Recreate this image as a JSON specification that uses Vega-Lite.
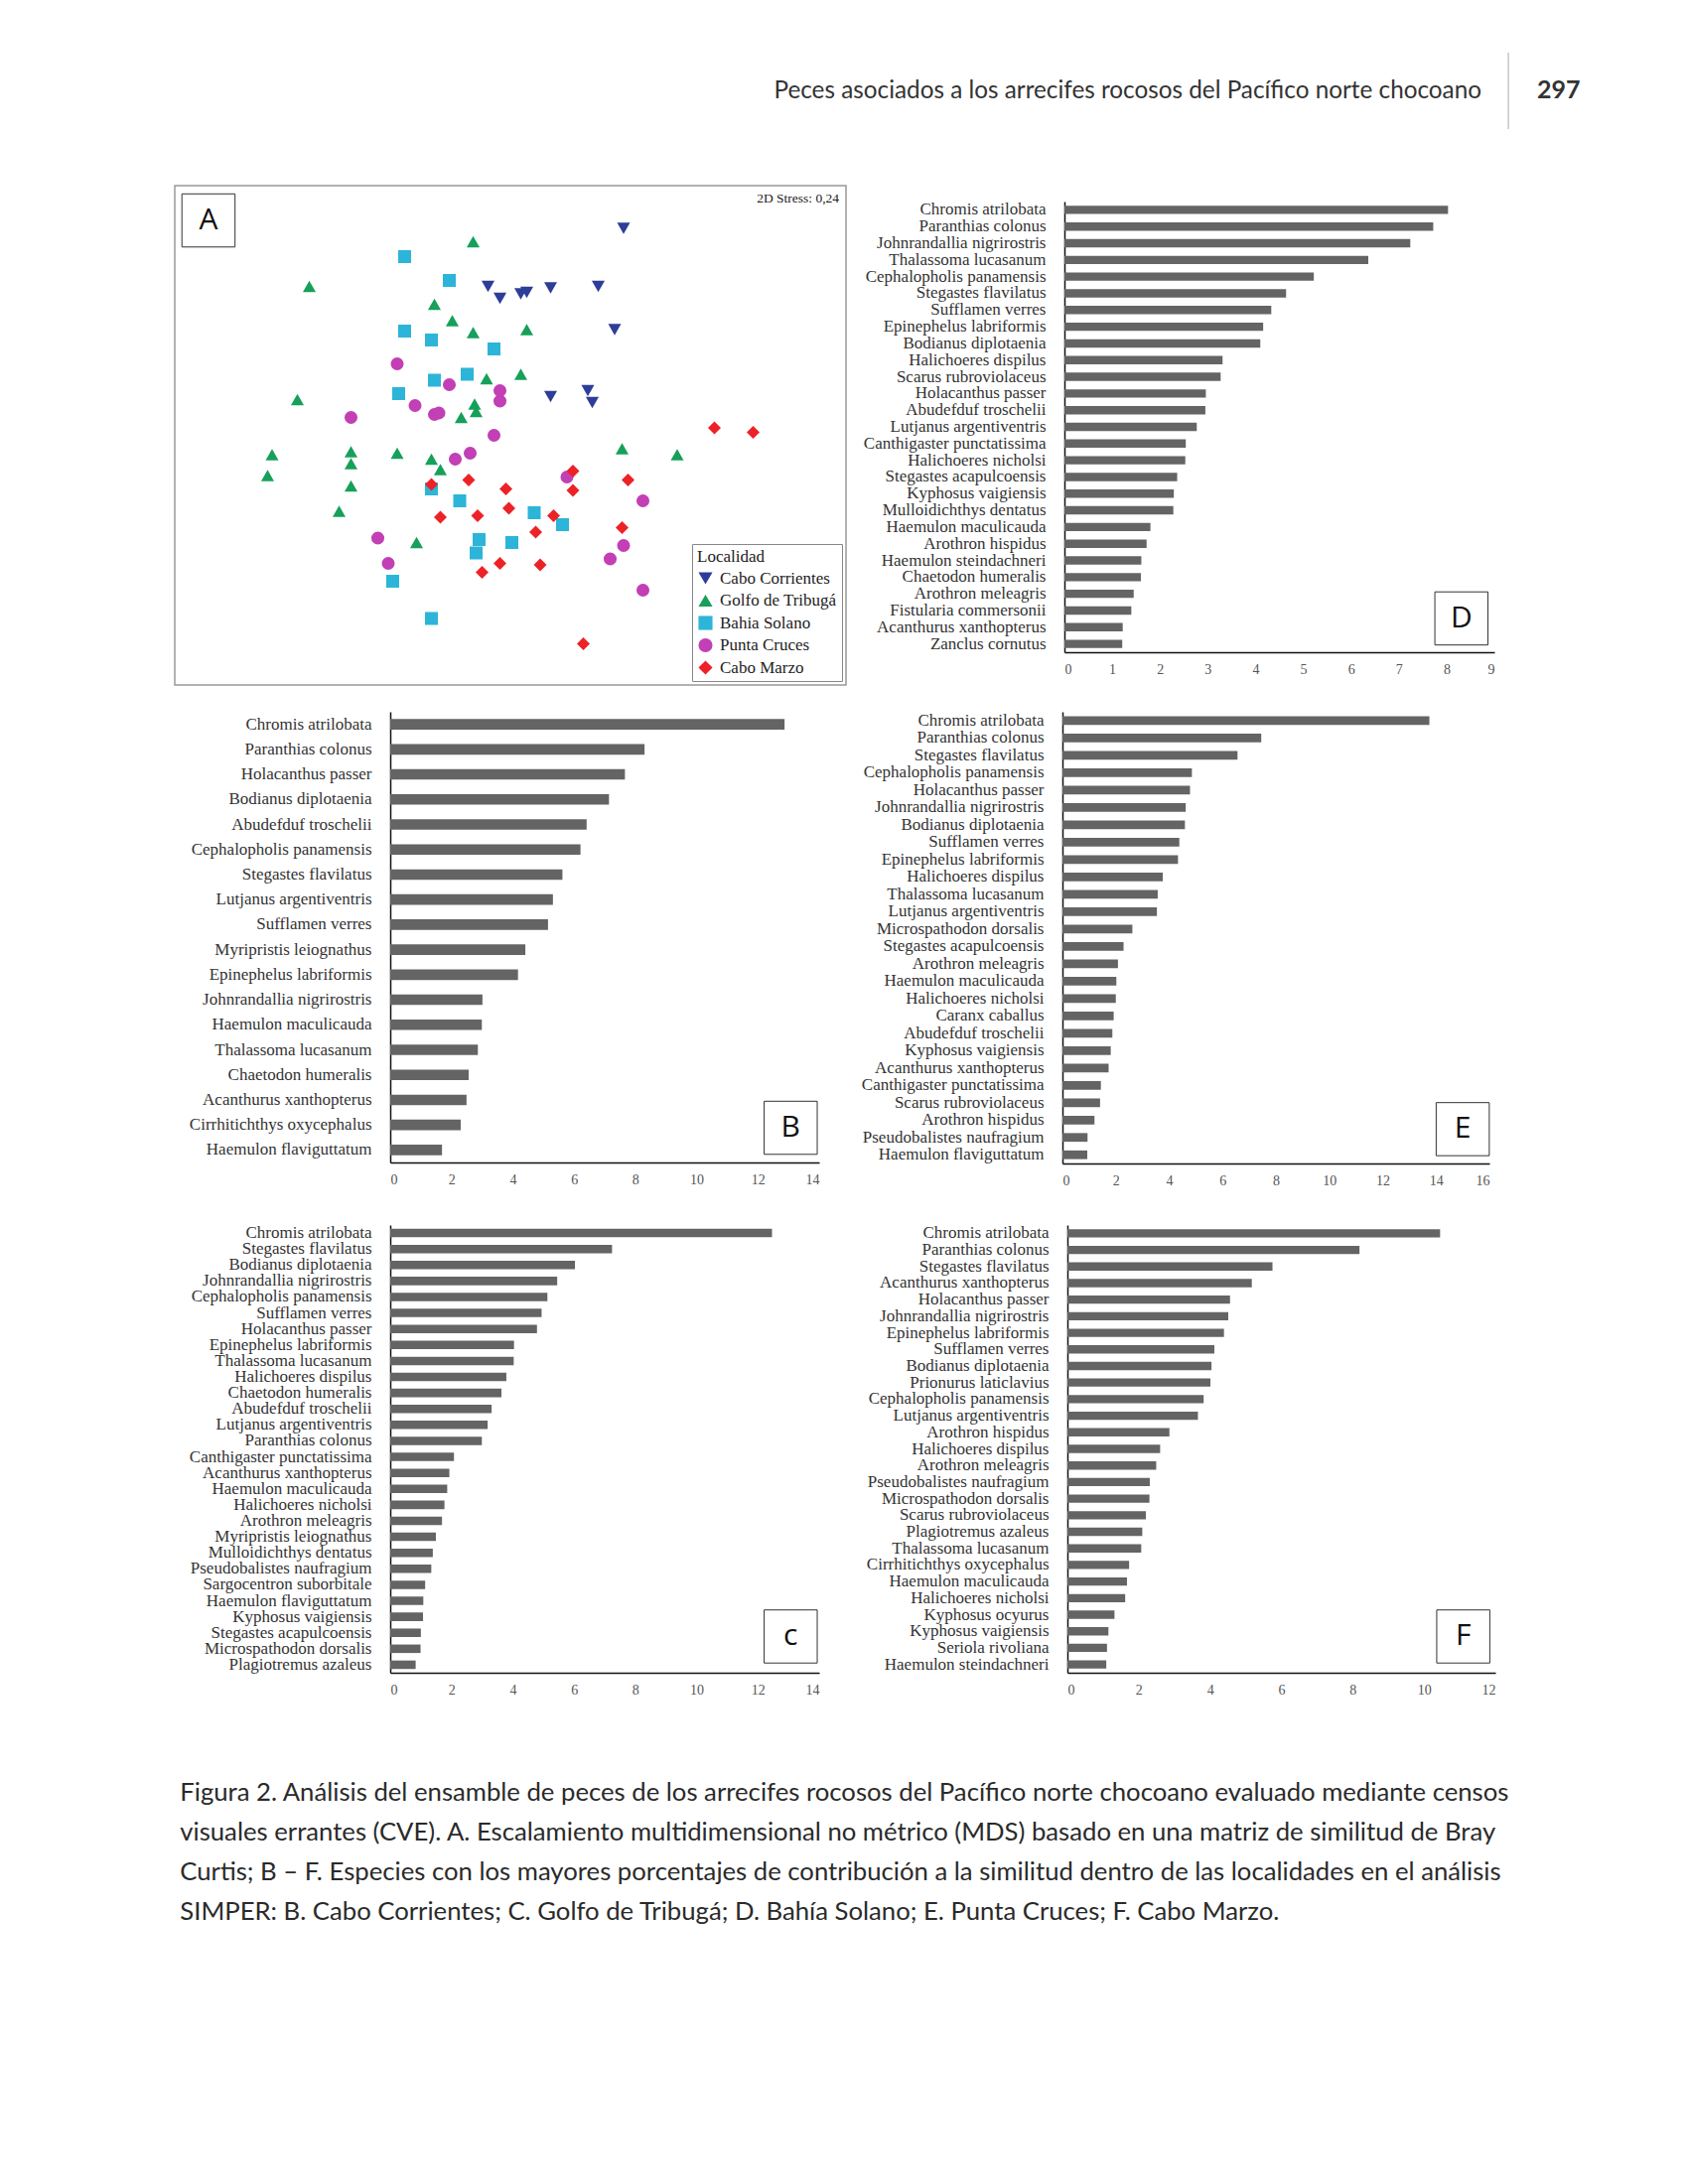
{
  "$schema": "https://vega.github.io/schema/vega-lite/v6.json",
  "background": "white",
  "padding": {"left": 175, "top": 52, "right": 10, "bottom": 10},
  "config": {
    "view": {"stroke": null},
    "font": "Liberation Serif",
    "axisX": {"grid": false, "ticks": false, "tickSize": 0, "domainColor": "#111", "domainWidth": 1.5, "labelFont": "Liberation Serif", "labelFontSize": 14, "labelColor": "#555", "labelPadding": 10, "zindex": 1},
    "axisY": {"grid": false, "ticks": false, "tickSize": 0, "domainColor": "#111", "domainWidth": 1.5, "labelFont": "Liberation Serif", "labelFontSize": 17, "labelColor": "#333", "labelPadding": 19, "labelLimit": 260, "zindex": 1},
    "legend": {"titleFont": "Liberation Serif", "titleFontSize": 17, "titleFontWeight": "normal", "titleColor": "#222", "labelFont": "Liberation Serif", "labelFontSize": 17, "labelColor": "#222", "symbolSize": 200, "rowPadding": 4.5, "padding": 5, "strokeColor": "#888", "fillColor": "white", "titlePadding": 4, "labelOffset": 6, "offset": 4, "symbolStrokeWidth": 0}
  },
  "title": {
    "text": [
      "Figura 2. Análisis del ensamble de peces de los arrecifes rocosos del Pacífico norte chocoano evaluado mediante censos",
      "visuales errantes (CVE). A. Escalamiento multidimensional no métrico (MDS) basado en una matriz de similitud de Bray",
      "Curtis; B – F. Especies con los mayores porcentajes de contribución a la similitud dentro de las localidades en el análisis",
      "SIMPER: B. Cabo Corrientes; C. Golfo de Tribugá; D. Bahía Solano; E. Punta Cruces; F. Cabo Marzo."
    ],
    "orient": "bottom", "anchor": "start", "frame": "bounds",
    "font": "Lato", "fontSize": 25.7, "fontWeight": "normal", "color": "#2a2a2a",
    "lineHeight": 40, "offset": 85, "dx": 6
  },
  "datasets": {
    "mds": [
      {"loc": "Cabo Corrientes", "mds1": -0.15, "mds2": 1.00},
      {"loc": "Cabo Corrientes", "mds1": -0.07, "mds2": 0.92},
      {"loc": "Cabo Corrientes", "mds1": 0.76, "mds2": 1.39},
      {"loc": "Cabo Corrientes", "mds1": 0.07, "mds2": 0.95},
      {"loc": "Cabo Corrientes", "mds1": 0.11, "mds2": 0.96},
      {"loc": "Cabo Corrientes", "mds1": 0.27, "mds2": 0.99},
      {"loc": "Cabo Corrientes", "mds1": 0.59, "mds2": 1.00},
      {"loc": "Cabo Corrientes", "mds1": 0.70, "mds2": 0.71},
      {"loc": "Cabo Corrientes", "mds1": 0.27, "mds2": 0.26},
      {"loc": "Cabo Corrientes", "mds1": 0.52, "mds2": 0.30},
      {"loc": "Cabo Corrientes", "mds1": 0.55, "mds2": 0.22},
      {"loc": "Golfo de Tribugá", "mds1": -0.25, "mds2": 1.30},
      {"loc": "Golfo de Tribugá", "mds1": -1.35, "mds2": 1.00},
      {"loc": "Golfo de Tribugá", "mds1": -0.51, "mds2": 0.88},
      {"loc": "Golfo de Tribugá", "mds1": -0.39, "mds2": 0.77},
      {"loc": "Golfo de Tribugá", "mds1": -0.25, "mds2": 0.69},
      {"loc": "Golfo de Tribugá", "mds1": -0.16, "mds2": 0.38},
      {"loc": "Golfo de Tribugá", "mds1": -1.43, "mds2": 0.24},
      {"loc": "Golfo de Tribugá", "mds1": -0.24, "mds2": 0.21},
      {"loc": "Golfo de Tribugá", "mds1": -0.23, "mds2": 0.16},
      {"loc": "Golfo de Tribugá", "mds1": -0.33, "mds2": 0.12},
      {"loc": "Golfo de Tribugá", "mds1": -1.60, "mds2": -0.13},
      {"loc": "Golfo de Tribugá", "mds1": -1.07, "mds2": -0.11},
      {"loc": "Golfo de Tribugá", "mds1": -1.07, "mds2": -0.19},
      {"loc": "Golfo de Tribugá", "mds1": -0.76, "mds2": -0.12},
      {"loc": "Golfo de Tribugá", "mds1": -0.53, "mds2": -0.16},
      {"loc": "Golfo de Tribugá", "mds1": -0.47, "mds2": -0.23},
      {"loc": "Golfo de Tribugá", "mds1": -1.63, "mds2": -0.27},
      {"loc": "Golfo de Tribugá", "mds1": -1.07, "mds2": -0.34},
      {"loc": "Golfo de Tribugá", "mds1": -1.15, "mds2": -0.51},
      {"loc": "Golfo de Tribugá", "mds1": -0.63, "mds2": -0.72},
      {"loc": "Golfo de Tribugá", "mds1": 0.11, "mds2": 0.71},
      {"loc": "Golfo de Tribugá", "mds1": 0.07, "mds2": 0.41},
      {"loc": "Golfo de Tribugá", "mds1": 0.75, "mds2": -0.09},
      {"loc": "Golfo de Tribugá", "mds1": 1.12, "mds2": -0.13},
      {"loc": "Bahia Solano", "mds1": -0.71, "mds2": 1.20},
      {"loc": "Bahia Solano", "mds1": -0.41, "mds2": 1.04},
      {"loc": "Bahia Solano", "mds1": -0.71, "mds2": 0.70},
      {"loc": "Bahia Solano", "mds1": -0.53, "mds2": 0.64},
      {"loc": "Bahia Solano", "mds1": -0.11, "mds2": 0.58},
      {"loc": "Bahia Solano", "mds1": -0.29, "mds2": 0.41},
      {"loc": "Bahia Solano", "mds1": -0.51, "mds2": 0.37},
      {"loc": "Bahia Solano", "mds1": -0.75, "mds2": 0.28},
      {"loc": "Bahia Solano", "mds1": -0.53, "mds2": -0.36},
      {"loc": "Bahia Solano", "mds1": -0.34, "mds2": -0.44},
      {"loc": "Bahia Solano", "mds1": -0.21, "mds2": -0.70},
      {"loc": "Bahia Solano", "mds1": 0.01, "mds2": -0.72},
      {"loc": "Bahia Solano", "mds1": -0.23, "mds2": -0.79},
      {"loc": "Bahia Solano", "mds1": -0.79, "mds2": -0.98},
      {"loc": "Bahia Solano", "mds1": -0.53, "mds2": -1.23},
      {"loc": "Bahia Solano", "mds1": 0.16, "mds2": -0.52},
      {"loc": "Bahia Solano", "mds1": 0.35, "mds2": -0.60},
      {"loc": "Punta Cruces", "mds1": -0.76, "mds2": 0.48},
      {"loc": "Punta Cruces", "mds1": -0.41, "mds2": 0.34},
      {"loc": "Punta Cruces", "mds1": -0.07, "mds2": 0.30},
      {"loc": "Punta Cruces", "mds1": -0.07, "mds2": 0.23},
      {"loc": "Punta Cruces", "mds1": -0.64, "mds2": 0.20},
      {"loc": "Punta Cruces", "mds1": -0.51, "mds2": 0.14},
      {"loc": "Punta Cruces", "mds1": -0.48, "mds2": 0.15},
      {"loc": "Punta Cruces", "mds1": -1.07, "mds2": 0.12},
      {"loc": "Punta Cruces", "mds1": -0.11, "mds2": 0.00},
      {"loc": "Punta Cruces", "mds1": -0.27, "mds2": -0.12},
      {"loc": "Punta Cruces", "mds1": -0.37, "mds2": -0.16},
      {"loc": "Punta Cruces", "mds1": -0.89, "mds2": -0.69},
      {"loc": "Punta Cruces", "mds1": -0.82, "mds2": -0.86},
      {"loc": "Punta Cruces", "mds1": 0.38, "mds2": -0.28},
      {"loc": "Punta Cruces", "mds1": 0.89, "mds2": -0.44},
      {"loc": "Punta Cruces", "mds1": 0.76, "mds2": -0.74},
      {"loc": "Punta Cruces", "mds1": 0.67, "mds2": -0.83},
      {"loc": "Punta Cruces", "mds1": 0.89, "mds2": -1.04},
      {"loc": "Cabo Marzo", "mds1": -0.53, "mds2": -0.33},
      {"loc": "Cabo Marzo", "mds1": -0.28, "mds2": -0.30},
      {"loc": "Cabo Marzo", "mds1": -0.03, "mds2": -0.36},
      {"loc": "Cabo Marzo", "mds1": -0.01, "mds2": -0.49},
      {"loc": "Cabo Marzo", "mds1": -0.47, "mds2": -0.55},
      {"loc": "Cabo Marzo", "mds1": -0.22, "mds2": -0.54},
      {"loc": "Cabo Marzo", "mds1": -0.07, "mds2": -0.86},
      {"loc": "Cabo Marzo", "mds1": -0.19, "mds2": -0.92},
      {"loc": "Cabo Marzo", "mds1": 1.37, "mds2": 0.05},
      {"loc": "Cabo Marzo", "mds1": 1.63, "mds2": 0.02},
      {"loc": "Cabo Marzo", "mds1": 0.42, "mds2": -0.24},
      {"loc": "Cabo Marzo", "mds1": 0.79, "mds2": -0.30},
      {"loc": "Cabo Marzo", "mds1": 0.42, "mds2": -0.37},
      {"loc": "Cabo Marzo", "mds1": 0.29, "mds2": -0.54},
      {"loc": "Cabo Marzo", "mds1": 0.17, "mds2": -0.65},
      {"loc": "Cabo Marzo", "mds1": 0.75, "mds2": -0.62},
      {"loc": "Cabo Marzo", "mds1": 0.20, "mds2": -0.87},
      {"loc": "Cabo Marzo", "mds1": 0.49, "mds2": -1.40}
    ],
    "B": [
      {"especie": "Chromis atrilobata", "contribucion": 12.87},
      {"especie": "Paranthias colonus", "contribucion": 8.30},
      {"especie": "Holacanthus passer", "contribucion": 7.66},
      {"especie": "Bodianus diplotaenia", "contribucion": 7.14},
      {"especie": "Abudefduf troschelii", "contribucion": 6.41},
      {"especie": "Cephalopholis panamensis", "contribucion": 6.21},
      {"especie": "Stegastes flavilatus", "contribucion": 5.62},
      {"especie": "Lutjanus argentiventris", "contribucion": 5.31},
      {"especie": "Sufflamen verres", "contribucion": 5.15},
      {"especie": "Myripristis leiognathus", "contribucion": 4.41},
      {"especie": "Epinephelus labriformis", "contribucion": 4.17},
      {"especie": "Johnrandallia nigrirostris", "contribucion": 3.01},
      {"especie": "Haemulon maculicauda", "contribucion": 2.99},
      {"especie": "Thalassoma lucasanum", "contribucion": 2.86},
      {"especie": "Chaetodon humeralis", "contribucion": 2.56},
      {"especie": "Acanthurus xanthopterus", "contribucion": 2.49},
      {"especie": "Cirrhitichthys oxycephalus", "contribucion": 2.30},
      {"especie": "Haemulon flaviguttatum", "contribucion": 1.69}
    ],
    "C": [
      {"especie": "Chromis atrilobata", "contribucion": 12.46},
      {"especie": "Stegastes flavilatus", "contribucion": 7.24},
      {"especie": "Bodianus diplotaenia", "contribucion": 6.03},
      {"especie": "Johnrandallia nigrirostris", "contribucion": 5.45},
      {"especie": "Cephalopholis panamensis", "contribucion": 5.13},
      {"especie": "Sufflamen verres", "contribucion": 4.94},
      {"especie": "Holacanthus passer", "contribucion": 4.79},
      {"especie": "Epinephelus labriformis", "contribucion": 4.04},
      {"especie": "Thalassoma lucasanum", "contribucion": 4.03},
      {"especie": "Halichoeres dispilus", "contribucion": 3.79},
      {"especie": "Chaetodon humeralis", "contribucion": 3.63},
      {"especie": "Abudefduf troschelii", "contribucion": 3.31},
      {"especie": "Lutjanus argentiventris", "contribucion": 3.18},
      {"especie": "Paranthias colonus", "contribucion": 2.99},
      {"especie": "Canthigaster punctatissima", "contribucion": 2.08},
      {"especie": "Acanthurus xanthopterus", "contribucion": 1.93},
      {"especie": "Haemulon maculicauda", "contribucion": 1.86},
      {"especie": "Halichoeres nicholsi", "contribucion": 1.77},
      {"especie": "Arothron meleagris", "contribucion": 1.69},
      {"especie": "Myripristis leiognathus", "contribucion": 1.49},
      {"especie": "Mulloidichthys dentatus", "contribucion": 1.39},
      {"especie": "Pseudobalistes naufragium", "contribucion": 1.34},
      {"especie": "Sargocentron suborbitale", "contribucion": 1.14},
      {"especie": "Haemulon flaviguttatum", "contribucion": 1.08},
      {"especie": "Kyphosus vaigiensis", "contribucion": 1.07},
      {"especie": "Stegastes acapulcoensis", "contribucion": 1.00},
      {"especie": "Microspathodon dorsalis", "contribucion": 0.99},
      {"especie": "Plagiotremus azaleus", "contribucion": 0.83}
    ],
    "D": [
      {"especie": "Chromis atrilobata", "contribucion": 8.03},
      {"especie": "Paranthias colonus", "contribucion": 7.72},
      {"especie": "Johnrandallia nigrirostris", "contribucion": 7.24},
      {"especie": "Thalassoma lucasanum", "contribucion": 6.36},
      {"especie": "Cephalopholis panamensis", "contribucion": 5.22},
      {"especie": "Stegastes flavilatus", "contribucion": 4.64},
      {"especie": "Sufflamen verres", "contribucion": 4.33},
      {"especie": "Epinephelus labriformis", "contribucion": 4.16},
      {"especie": "Bodianus diplotaenia", "contribucion": 4.10},
      {"especie": "Halichoeres dispilus", "contribucion": 3.31},
      {"especie": "Scarus rubroviolaceus", "contribucion": 3.27},
      {"especie": "Holacanthus passer", "contribucion": 2.96},
      {"especie": "Abudefduf troschelii", "contribucion": 2.95},
      {"especie": "Lutjanus argentiventris", "contribucion": 2.77},
      {"especie": "Canthigaster punctatissima", "contribucion": 2.54},
      {"especie": "Halichoeres nicholsi", "contribucion": 2.53},
      {"especie": "Stegastes acapulcoensis", "contribucion": 2.36},
      {"especie": "Kyphosus vaigiensis", "contribucion": 2.29},
      {"especie": "Mulloidichthys dentatus", "contribucion": 2.28},
      {"especie": "Haemulon maculicauda", "contribucion": 1.80},
      {"especie": "Arothron hispidus", "contribucion": 1.72},
      {"especie": "Haemulon steindachneri", "contribucion": 1.61},
      {"especie": "Chaetodon humeralis", "contribucion": 1.60},
      {"especie": "Arothron meleagris", "contribucion": 1.45},
      {"especie": "Fistularia commersonii", "contribucion": 1.40},
      {"especie": "Acanthurus xanthopterus", "contribucion": 1.22},
      {"especie": "Zanclus cornutus", "contribucion": 1.21}
    ],
    "E": [
      {"especie": "Chromis atrilobata", "contribucion": 13.75},
      {"especie": "Paranthias colonus", "contribucion": 7.45},
      {"especie": "Stegastes flavilatus", "contribucion": 6.56},
      {"especie": "Cephalopholis panamensis", "contribucion": 4.85},
      {"especie": "Holacanthus passer", "contribucion": 4.78},
      {"especie": "Johnrandallia nigrirostris", "contribucion": 4.62},
      {"especie": "Bodianus diplotaenia", "contribucion": 4.59},
      {"especie": "Sufflamen verres", "contribucion": 4.38},
      {"especie": "Epinephelus labriformis", "contribucion": 4.33},
      {"especie": "Halichoeres dispilus", "contribucion": 3.76},
      {"especie": "Thalassoma lucasanum", "contribucion": 3.57},
      {"especie": "Lutjanus argentiventris", "contribucion": 3.54},
      {"especie": "Microspathodon dorsalis", "contribucion": 2.62},
      {"especie": "Stegastes acapulcoensis", "contribucion": 2.29},
      {"especie": "Arothron meleagris", "contribucion": 2.08},
      {"especie": "Haemulon maculicauda", "contribucion": 2.02},
      {"especie": "Halichoeres nicholsi", "contribucion": 2.00},
      {"especie": "Caranx caballus", "contribucion": 1.92},
      {"especie": "Abudefduf troschelii", "contribucion": 1.87},
      {"especie": "Kyphosus vaigiensis", "contribucion": 1.81},
      {"especie": "Acanthurus xanthopterus", "contribucion": 1.73},
      {"especie": "Canthigaster punctatissima", "contribucion": 1.44},
      {"especie": "Scarus rubroviolaceus", "contribucion": 1.41},
      {"especie": "Arothron hispidus", "contribucion": 1.20},
      {"especie": "Pseudobalistes naufragium", "contribucion": 0.94},
      {"especie": "Haemulon flaviguttatum", "contribucion": 0.93}
    ],
    "F": [
      {"especie": "Chromis atrilobata", "contribucion": 10.45},
      {"especie": "Paranthias colonus", "contribucion": 8.19},
      {"especie": "Stegastes flavilatus", "contribucion": 5.75},
      {"especie": "Acanthurus xanthopterus", "contribucion": 5.17},
      {"especie": "Holacanthus passer", "contribucion": 4.56},
      {"especie": "Johnrandallia nigrirostris", "contribucion": 4.51},
      {"especie": "Epinephelus labriformis", "contribucion": 4.39},
      {"especie": "Sufflamen verres", "contribucion": 4.12},
      {"especie": "Bodianus diplotaenia", "contribucion": 4.04},
      {"especie": "Prionurus laticlavius", "contribucion": 4.01},
      {"especie": "Cephalopholis panamensis", "contribucion": 3.82},
      {"especie": "Lutjanus argentiventris", "contribucion": 3.66},
      {"especie": "Arothron hispidus", "contribucion": 2.86},
      {"especie": "Halichoeres dispilus", "contribucion": 2.60},
      {"especie": "Arothron meleagris", "contribucion": 2.49},
      {"especie": "Pseudobalistes naufragium", "contribucion": 2.31},
      {"especie": "Microspathodon dorsalis", "contribucion": 2.30},
      {"especie": "Scarus rubroviolaceus", "contribucion": 2.20},
      {"especie": "Plagiotremus azaleus", "contribucion": 2.10},
      {"especie": "Thalassoma lucasanum", "contribucion": 2.07},
      {"especie": "Cirrhitichthys oxycephalus", "contribucion": 1.73},
      {"especie": "Haemulon maculicauda", "contribucion": 1.67},
      {"especie": "Halichoeres nicholsi", "contribucion": 1.62},
      {"especie": "Kyphosus ocyurus", "contribucion": 1.32},
      {"especie": "Kyphosus vaigiensis", "contribucion": 1.15},
      {"especie": "Seriola rivoliana", "contribucion": 1.11},
      {"especie": "Haemulon steindachneri", "contribucion": 1.09}
    ]
  },
  "columns": 1,
  "spacing": 55,
  "resolve": {"scale": {"color": "independent", "shape": "independent"}, "legend": {"color": "independent", "shape": "independent"}},
  "concat": [
    {
      "width": 1201, "height": 77,
      "data": {"values": [
        {"tipo": "titulo", "texto": "Peces asociados a los arrecifes rocosos del Pacífico norte chocoano"},
        {"tipo": "pagina", "texto": "297"}
      ]},
      "layer": [
        {
          "transform": [{"filter": "datum.tipo == 'titulo'"}],
          "mark": {"type": "text", "align": "right", "baseline": "middle", "font": "Lato", "fontSize": 24.3, "color": "#333"},
          "encoding": {
            "x": {"datum": 0.9151, "type": "quantitative", "scale": {"domain": [0, 1], "nice": false}, "axis": null},
            "y": {"datum": 0.5, "type": "quantitative", "scale": {"domain": [0, 1], "nice": false}, "axis": null},
            "text": {"field": "texto"}
          }
        },
        {
          "transform": [{"filter": "datum.tipo == 'pagina'"}],
          "mark": {"type": "text", "align": "left", "baseline": "middle", "font": "Lato", "fontSize": 25, "fontWeight": "bold", "color": "#333"},
          "encoding": {
            "x": {"datum": 0.9617, "type": "quantitative", "scale": {"domain": [0, 1], "nice": false}, "axis": null},
            "y": {"datum": 0.51, "type": "quantitative", "scale": {"domain": [0, 1], "nice": false}, "axis": null},
            "text": {"field": "texto"}
          }
        },
        {
          "transform": [{"filter": "datum.tipo == 'pagina'"}],
          "mark": {"type": "rule", "color": "#aaa", "strokeWidth": 1},
          "encoding": {
            "x": {"datum": 0.9376, "type": "quantitative", "scale": {"domain": [0, 1], "nice": false}, "axis": null},
            "y": {"datum": 0, "type": "quantitative", "scale": {"domain": [0, 1], "nice": false}, "axis": null},
            "y2": {"datum": 1}
          }
        }
      ]
    },
    {
      "columns": 1,
      "spacing": 25,
      "resolve": {"scale": {"color": "independent", "shape": "independent"}, "legend": {"color": "independent", "shape": "independent"}},
      "concat": [
        {
          "columns": 2,
          "spacing": 4,
          "resolve": {"scale": {"color": "independent", "shape": "independent"}, "legend": {"color": "independent", "shape": "independent"}},
          "concat": [
            {
              "width": 459, "height": 487,
              "layer": [
                {
                  "data": {"values": [{"marco": "A"}]},
                  "mark": {"type": "rect", "filled": false, "color": "#999", "strokeWidth": 1.5},
                  "encoding": {
                    "x": {"datum": -2.2533, "type": "quantitative", "scale": {"domain": [-0.8067, 2.2533], "nice": false, "zero": false}, "axis": null},
                    "x2": {"datum": 2.2533},
                    "y": {"datum": -1.6767, "type": "quantitative", "scale": {"domain": [-1.6767, 1.57], "nice": false, "zero": false}, "axis": null},
                    "y2": {"datum": 1.6767}
                  }
                },
                {
                  "data": {"name": "mds"},
                  "mark": {"type": "point", "filled": true, "size": 170, "opacity": 1},
                  "encoding": {
                    "x": {"field": "mds1", "type": "quantitative", "scale": {"domain": [-0.8067, 2.2533], "nice": false, "zero": false}, "axis": null},
                    "y": {"field": "mds2", "type": "quantitative", "scale": {"domain": [-1.6767, 1.57], "nice": false, "zero": false}, "axis": null},
                    "color": {"field": "loc", "type": "nominal", "scale": {"domain": ["Cabo Corrientes", "Golfo de Tribugá", "Bahia Solano", "Punta Cruces", "Cabo Marzo"], "range": ["#2E3D98", "#16A05A", "#2CB5D8", "#C23FB5", "#EC2227"]}, "legend": {"title": "Localidad", "orient": "bottom-right"}},
                    "shape": {"field": "loc", "type": "nominal", "scale": {"domain": ["Cabo Corrientes", "Golfo de Tribugá", "Bahia Solano", "Punta Cruces", "Cabo Marzo"], "range": ["triangle-down", "triangle-up", "square", "circle", "diamond"]}, "legend": {"title": "Localidad", "orient": "bottom-right"}}
                  }
                },
                {
                  "data": {"values": [{"panel": "A"}]},
                  "mark": {"type": "point", "shape": "square", "size": 2860, "filled": true, "fill": "white", "stroke": "#333", "strokeWidth": 1, "opacity": 1},
                  "encoding": {
                    "x": {"datum": -2.027, "type": "quantitative", "scale": {"domain": [-0.8067, 2.2533], "nice": false, "zero": false}},
                    "y": {"datum": 1.443, "type": "quantitative", "scale": {"domain": [-1.6767, 1.57], "nice": false, "zero": false}}
                  }
                },
                {
                  "data": {"values": [{"panel": "A"}]},
                  "mark": {"type": "text", "font": "Open Sans", "fontSize": 30, "color": "#111", "baseline": "middle", "align": "center"},
                  "encoding": {
                    "x": {"datum": -2.027, "type": "quantitative", "scale": {"domain": [-0.8067, 2.2533], "nice": false, "zero": false}},
                    "y": {"datum": 1.443, "type": "quantitative", "scale": {"domain": [-1.6767, 1.57], "nice": false, "zero": false}},
                    "text": {"field": "panel"}
                  }
                },
                {
                  "data": {"values": [{"nota": "2D Stress: 0,24"}]},
                  "mark": {"type": "text", "font": "Liberation Serif", "fontSize": 13.5, "color": "#222", "baseline": "middle", "align": "right"},
                  "encoding": {
                    "x": {"datum": 2.207, "type": "quantitative", "scale": {"domain": [-0.8067, 2.2533], "nice": false, "zero": false}},
                    "y": {"datum": 1.59, "type": "quantitative", "scale": {"domain": [-1.6767, 1.57], "nice": false, "zero": false}},
                    "text": {"field": "nota"}
                  }
                }
              ]
            },
            {
              "width": 433, "height": 454,
              "layer": [
                {
                  "data": {"name": "D"},
                  "mark": {"type": "bar", "color": "#646464"},
                  "encoding": {
                    "y": {"field": "especie", "type": "nominal", "sort": null, "title": null, "scale": {"paddingInner": 0.5, "paddingOuter": 0.25}, "axis": {"minExtent": 215, "maxExtent": 215}},
                    "x": {"field": "contribucion", "type": "quantitative", "title": null, "scale": {"domain": [0, 9], "nice": false}, "axis": {"values": [0, 1, 2, 3, 4, 5, 6, 7, 8, 9]}}
                  }
                },
                {
                  "data": {"values": [{"panel": "D"}]},
                  "mark": {"type": "point", "shape": "square", "size": 2860, "filled": true, "fill": "white", "stroke": "#333", "strokeWidth": 1, "opacity": 1},
                  "encoding": {
                    "x": {"datum": 8.31, "type": "quantitative"},
                    "y": {"datum": 0.075, "type": "quantitative", "scale": {"domain": [0, 1], "nice": false}, "axis": null}
                  }
                },
                {
                  "data": {"values": [{"panel": "D"}]},
                  "mark": {"type": "text", "font": "Open Sans", "fontSize": 30, "color": "#111", "baseline": "middle", "align": "center"},
                  "encoding": {
                    "x": {"datum": 8.31, "type": "quantitative"},
                    "y": {"datum": 0.075, "type": "quantitative", "scale": {"domain": [0, 1], "nice": false}, "axis": null},
                    "text": {"field": "panel"}
                  }
                }
              ],
              "resolve": {"scale": {"y": "independent"}, "axis": {"y": "independent"}}
            }
          ]
        },
        {
          "columns": 1,
          "spacing": 36,
          "concat": [
            {
              "columns": 2,
              "spacing": 29,
              "concat": [
                {
                  "width": 432, "height": 454,
                  "layer": [
                    {
                      "data": {"name": "B"},
                      "mark": {"type": "bar", "color": "#646464"},
                      "encoding": {
                        "y": {"field": "especie", "type": "nominal", "sort": null, "title": null, "scale": {"paddingInner": 0.58, "paddingOuter": 0.29}, "axis": {"minExtent": 217, "maxExtent": 217}},
                        "x": {"field": "contribucion", "type": "quantitative", "title": null, "scale": {"domain": [0, 14], "nice": false}, "axis": {"values": [0, 2, 4, 6, 8, 10, 12, 14]}}
                      }
                    },
                    {
                      "data": {"values": [{"panel": "B"}]},
                      "mark": {"type": "point", "shape": "square", "size": 2860, "filled": true, "fill": "white", "stroke": "#333", "strokeWidth": 1, "opacity": 1},
                      "encoding": {
                        "x": {"datum": 13.07, "type": "quantitative"},
                        "y": {"datum": 0.077, "type": "quantitative", "scale": {"domain": [0, 1], "nice": false}, "axis": null}
                      }
                    },
                    {
                      "data": {"values": [{"panel": "B"}]},
                      "mark": {"type": "text", "font": "Open Sans", "fontSize": 30, "color": "#111", "baseline": "middle", "align": "center"},
                      "encoding": {
                        "x": {"datum": 13.07, "type": "quantitative"},
                        "y": {"datum": 0.077, "type": "quantitative", "scale": {"domain": [0, 1], "nice": false}, "axis": null},
                        "text": {"field": "panel"}
                      }
                    }
                  ],
                  "resolve": {"scale": {"y": "independent"}, "axis": {"y": "independent"}}
                },
                {
                  "width": 430, "height": 455,
                  "layer": [
                    {
                      "data": {"name": "E"},
                      "mark": {"type": "bar", "color": "#646464"},
                      "encoding": {
                        "y": {"field": "especie", "type": "nominal", "sort": null, "title": null, "scale": {"paddingInner": 0.5, "paddingOuter": 0.25}, "axis": {"minExtent": 215, "maxExtent": 215}},
                        "x": {"field": "contribucion", "type": "quantitative", "title": null, "scale": {"domain": [0, 16], "nice": false}, "axis": {"values": [0, 2, 4, 6, 8, 10, 12, 14, 16]}}
                      }
                    },
                    {
                      "data": {"values": [{"panel": "E"}]},
                      "mark": {"type": "point", "shape": "square", "size": 2860, "filled": true, "fill": "white", "stroke": "#333", "strokeWidth": 1, "opacity": 1},
                      "encoding": {
                        "x": {"datum": 15.0, "type": "quantitative"},
                        "y": {"datum": 0.076, "type": "quantitative", "scale": {"domain": [0, 1], "nice": false}, "axis": null}
                      }
                    },
                    {
                      "data": {"values": [{"panel": "E"}]},
                      "mark": {"type": "text", "font": "Open Sans", "fontSize": 30, "color": "#111", "baseline": "middle", "align": "center"},
                      "encoding": {
                        "x": {"datum": 15.0, "type": "quantitative"},
                        "y": {"datum": 0.076, "type": "quantitative", "scale": {"domain": [0, 1], "nice": false}, "axis": null},
                        "text": {"field": "panel"}
                      }
                    }
                  ],
                  "resolve": {"scale": {"y": "independent"}, "axis": {"y": "independent"}}
                }
              ]
            },
            {
              "columns": 2,
              "spacing": 34,
              "concat": [
                {
                  "width": 432, "height": 451,
                  "layer": [
                    {
                      "data": {"name": "C"},
                      "mark": {"type": "bar", "color": "#646464"},
                      "encoding": {
                        "y": {"field": "especie", "type": "nominal", "sort": null, "title": null, "scale": {"paddingInner": 0.47, "paddingOuter": 0.235}, "axis": {"minExtent": 217, "maxExtent": 217}},
                        "x": {"field": "contribucion", "type": "quantitative", "title": null, "scale": {"domain": [0, 14], "nice": false}, "axis": {"values": [0, 2, 4, 6, 8, 10, 12, 14]}}
                      }
                    },
                    {
                      "data": {"values": [{"panel": "c"}]},
                      "mark": {"type": "point", "shape": "square", "size": 2860, "filled": true, "fill": "white", "stroke": "#333", "strokeWidth": 1, "opacity": 1},
                      "encoding": {
                        "x": {"datum": 13.07, "type": "quantitative"},
                        "y": {"datum": 0.081, "type": "quantitative", "scale": {"domain": [0, 1], "nice": false}, "axis": null}
                      }
                    },
                    {
                      "data": {"values": [{"panel": "c"}]},
                      "mark": {"type": "text", "font": "Open Sans", "fontSize": 30, "color": "#111", "baseline": "middle", "align": "center"},
                      "encoding": {
                        "x": {"datum": 13.07, "type": "quantitative"},
                        "y": {"datum": 0.081, "type": "quantitative", "scale": {"domain": [0, 1], "nice": false}, "axis": null},
                        "text": {"field": "panel"}
                      }
                    }
                  ],
                  "resolve": {"scale": {"y": "independent"}, "axis": {"y": "independent"}}
                },
                {
                  "width": 431, "height": 451,
                  "layer": [
                    {
                      "data": {"name": "F"},
                      "mark": {"type": "bar", "color": "#646464"},
                      "encoding": {
                        "y": {"field": "especie", "type": "nominal", "sort": null, "title": null, "scale": {"paddingInner": 0.5, "paddingOuter": 0.25}, "axis": {"minExtent": 215, "maxExtent": 215}},
                        "x": {"field": "contribucion", "type": "quantitative", "title": null, "scale": {"domain": [0, 12], "nice": false}, "axis": {"values": [0, 2, 4, 6, 8, 10, 12]}}
                      }
                    },
                    {
                      "data": {"values": [{"panel": "F"}]},
                      "mark": {"type": "point", "shape": "square", "size": 2860, "filled": true, "fill": "white", "stroke": "#333", "strokeWidth": 1, "opacity": 1},
                      "encoding": {
                        "x": {"datum": 11.1, "type": "quantitative"},
                        "y": {"datum": 0.081, "type": "quantitative", "scale": {"domain": [0, 1], "nice": false}, "axis": null}
                      }
                    },
                    {
                      "data": {"values": [{"panel": "F"}]},
                      "mark": {"type": "text", "font": "Open Sans", "fontSize": 30, "color": "#111", "baseline": "middle", "align": "center"},
                      "encoding": {
                        "x": {"datum": 11.1, "type": "quantitative"},
                        "y": {"datum": 0.081, "type": "quantitative", "scale": {"domain": [0, 1], "nice": false}, "axis": null},
                        "text": {"field": "panel"}
                      }
                    }
                  ],
                  "resolve": {"scale": {"y": "independent"}, "axis": {"y": "independent"}}
                }
              ]
            }
          ]
        }
      ]
    }
  ]
}
